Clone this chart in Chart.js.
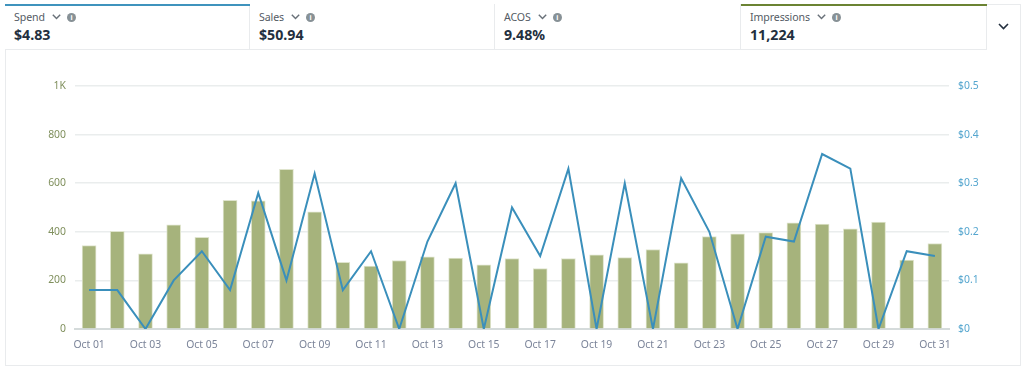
<!DOCTYPE html>
<html><head><meta charset="utf-8">
<script src="https://cdn.jsdelivr.net/npm/chart.js@4"></script>
<style>
html,body{margin:0;padding:0;background:#fff;width:1024px;height:371px;overflow:hidden;font-family:"Noto Sans","Open Sans",sans-serif}
#card{position:absolute;left:5px;top:4px;width:1014px;height:360px;border:1px solid #e9ebed;box-sizing:content-box}
#wrap{position:absolute;left:0;top:0;width:1024px;height:371px}
.tab{position:absolute;top:4px;height:46px;box-sizing:border-box;border-bottom:1px solid #e9ebed;border-right:1px solid #e9ebed;background:#fff}
.tab .bar{position:absolute;left:0;right:-1px;top:0;height:2px}
.name{position:absolute;left:9px;top:6px;font-size:10.6px;letter-spacing:-0.1px;line-height:15px;color:#545b64;white-space:nowrap}
.val{position:absolute;left:9px;top:21px;font-size:14.2px;line-height:20px;font-weight:700;color:#232f3e;white-space:nowrap}
.chev{display:inline-block;width:9px;height:6px;margin:0 6px 2px 7px;vertical-align:middle}
.info{display:inline-block;width:9px;height:9px;border-radius:50%;background:#879196;color:#fff;font-size:7px;line-height:9px;text-align:center;font-weight:700;vertical-align:middle;margin-bottom:1px}
</style></head><body>
<div id="card"></div>
<div id="tabs"></div>
<svg style="position:absolute;left:998px;top:23px" width="11" height="7"><polyline points="1,1 5.5,5.5 10,1" fill="none" stroke="#232f3e" stroke-width="1.6"/></svg>
<div id="wrap"><canvas id="c" width="1024" height="371"></canvas></div>
<script>
const categories=["Oct 01","Oct 02","Oct 03","Oct 04","Oct 05","Oct 06","Oct 07","Oct 08","Oct 09","Oct 10","Oct 11","Oct 12","Oct 13","Oct 14","Oct 15","Oct 16","Oct 17","Oct 18","Oct 19","Oct 20","Oct 21","Oct 22","Oct 23","Oct 24","Oct 25","Oct 26","Oct 27","Oct 28","Oct 29","Oct 30","Oct 31"];
const impressions=[343,402,309,429,377,530,527,657,482,274,259,282,297,292,264,290,249,290,305,294,327,272,380,392,397,437,432,412,440,284,352];
const spend=[0.08,0.08,0,0.1,0.16,0.08,0.28,0.1,0.32,0.08,0.16,0,0.18,0.3,0,0.25,0.15,0.33,0,0.3,0,0.31,0.2,0,0.19,0.18,0.36,0.33,0,0.16,0.15];
const metricNames=["Spend","Sales","ACOS","Impressions"];
const metricValues=["$4.83","$50.94","9.48%","11,224"];
const tabLefts=[5,250,495,741], tabWidths=[245,245,246,246], tabColors=["#3f93bd",null,null,"#6b8333"];
const chev='<svg class="chev" viewBox="0 0 9 6"><polyline points="0.8,0.8 4.5,4.6 8.2,0.8" fill="none" stroke="#687078" stroke-width="1.4"/></svg>';
document.getElementById('tabs').innerHTML=metricNames.map((n,i)=>
 `<div class="tab" style="left:${tabLefts[i]}px;width:${tabWidths[i]}px">`+
 (tabColors[i]?`<div class="bar" style="background:${tabColors[i]}"></div>`:'')+
 `<div class="name">${n}${chev}<span class="info">i</span></div><div class="val">${metricValues[i]}</div></div>`).join('');
const fit=(w)=>function(s){s.width=w};
new Chart(document.getElementById('c'),{
 data:{labels:categories,datasets:[
  {type:'line',label:'Spend',data:spend,yAxisID:'y1',borderColor:'#3a8fbb',borderWidth:2,pointRadius:0,tension:0,order:0},
  {type:'bar',label:'Impressions',data:impressions,yAxisID:'y',backgroundColor:'#a6b37c',borderColor:'#dfe4cd',borderWidth:{left:1,right:1,top:1,bottom:0},barThickness:14,order:1}
 ]},
 options:{responsive:false,animation:false,
  layout:{padding:{left:0,right:0,top:86,bottom:0}},
  plugins:{legend:{display:false},tooltip:{enabled:false}},
  scales:{
   x:{offset:true,grid:{display:false},border:{color:'#d5dbdb',width:2},
      ticks:{autoSkip:false,maxRotation:0,padding:2,color:'#7b8499',font:{family:'"Noto Sans"',size:10.4},
        callback(v,i){return i%2===0?categories[i]:''}},afterFit(s){s.height=42}},
   y:{position:'left',min:0,max:1000,grid:{color:(c)=>c.tick.value===0?'#d5dbdb':'#eaeded',drawTicks:false,lineWidth:1.5},border:{display:false},
      ticks:{stepSize:200,padding:9,color:'#7f8f5c',font:{family:'"Noto Sans"',size:10.4},callback:v=>v===1000?'1K':v},afterFit:fit(75)},
   y1:{position:'right',min:0,max:0.5,grid:{display:false,drawTicks:false},border:{display:false},
      ticks:{stepSize:0.1,padding:9,color:'#55a6cf',font:{family:'"Noto Sans"',size:10.4},callback:v=>'$'+(+v.toFixed(1))},afterFit:fit(75)}
  }}
});
</script>
</body></html>
